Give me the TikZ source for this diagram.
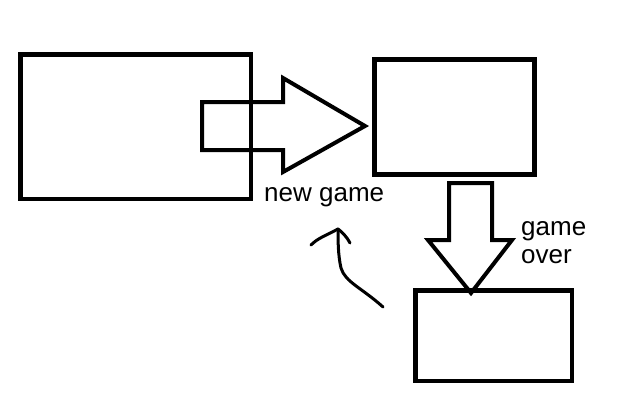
\documentclass[tikz,border=0pt]{standalone}
\usepackage{fontspec}
\setmainfont{Liberation Sans}
\begin{document}
\begin{tikzpicture}[x=1pt,y=-1pt,
  box/.style={draw=black,line width=4.5pt,minimum width=0pt},
  blockarrow/.style={draw=black,line width=4pt,line join=miter},
  lbl/.style={font=\fontsize{26}{28}\selectfont,inner sep=0pt,anchor=base west},
  hand/.style={draw=black,line width=3pt,line cap=round,line join=round}]
\useasboundingbox[fill=white] (0,0) rectangle (639,412);
% boxes
\draw[box] (20.5,54.5) rectangle (251,199);
\draw[box] (374.5,59.5) rectangle (534.5,174.5);
\draw[box] (415.5,290.5) rectangle (572,381);
\coordinate (b1) at (251,126);
\coordinate (b2) at (374.5,126);
% right block arrow
\draw[blockarrow] (202,102) -- (283,102) -- (283,78) -- (365,126) -- (283,172) -- (283,150) -- (202,150) -- cycle;
% down block arrow
\draw[blockarrow] (449,183) -- (492,183) -- (492,240) -- (512,240) -- (471,293) -- (428,240) -- (449,240) -- cycle;
% labels
\node[lbl] (ng) at (264,201) {new game};
\node[lbl] (go1) at (521,235) {game};
\node[lbl] (go2) at (521,263) {over};
% hand-drawn arrow
\coordinate (tip) at (338,229);
\coordinate (tail) at (383,307);
\draw[hand] (tail) .. controls (362,288) and (345,282) .. (341,268) .. controls (338,255) and (338,240) .. (tip);
\draw[hand] (tip) .. controls (325,236) and (318,238) .. (311,245);
\draw[hand] (tip) .. controls (342,232) and (347,237) .. (350,243);
\end{tikzpicture}
\end{document}
